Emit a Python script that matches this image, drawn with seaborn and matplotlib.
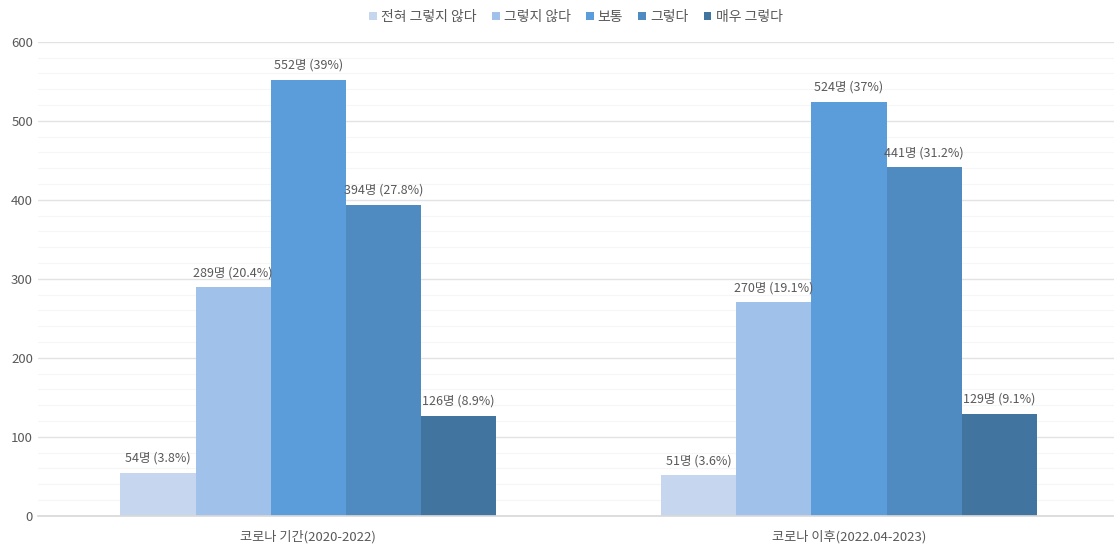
import matplotlib
matplotlib.use("Agg")
import matplotlib.pyplot as plt
import numpy as np
import pandas as pd
import seaborn as sns
from matplotlib.ticker import MultipleLocator

periods = ["코로나 기간(2020-2022)", "코로나 이후(2022.04-2023)"]
responses = ["전혀 그렇지 않다", "그렇지 않다", "보통", "그렇다", "매우 그렇다"]
counts_during = [54, 289, 552, 394, 126]
counts_after = [51, 270, 524, 441, 129]
pct_during = ["3.8%", "20.4%", "39%", "27.8%", "8.9%"]
pct_after = ["3.6%", "19.1%", "37%", "31.2%", "9.1%"]
colors = ["#C5D6EE", "#9FC1EA", "#5B9DDA", "#4F8AC0", "#41759F"]

rows = []
for period, counts, pcts in [(periods[0], counts_during, pct_during),
                             (periods[1], counts_after, pct_after)]:
    for resp, c, p in zip(responses, counts, pcts):
        rows.append({"period": period, "response": resp, "count": c,
                     "label": f"{c}명 ({p})"})
df = pd.DataFrame(rows)

sns.set_theme(style="white")
plt.rcParams["font.family"] = ["Noto Sans CJK KR", "DejaVu Sans"]
text_color = "#595959"

fig, ax = plt.subplots(figsize=(11.14, 5.44), dpi=100)
sns.barplot(data=df, x="period", y="count", hue="response",
            hue_order=responses, palette=colors, width=0.695,
            saturation=1, gap=0, linewidth=0, ax=ax)

# data labels
for container, resp in zip(ax.containers, responses):
    labels = df[df["response"] == resp]["label"].tolist()
    ax.bar_label(container, labels=labels, padding=6, fontsize=9,
                 color=text_color)

ax.set_ylim(0, 600)
ax.set_xlim(-0.5, 1.49)
ax.yaxis.set_major_locator(MultipleLocator(100))
ax.yaxis.set_minor_locator(MultipleLocator(20))
ax.grid(axis="y", which="major", color="#E3E3E3", linewidth=1)
ax.grid(axis="y", which="minor", color="#F6F6F6", linewidth=0.8)
ax.set_axisbelow(True)
for side in ["top", "right", "left"]:
    ax.spines[side].set_visible(False)
ax.spines["bottom"].set_color("#D9D9D9")
ax.tick_params(axis="both", which="both", length=0, colors=text_color,
               labelsize=9.5)
ax.tick_params(axis="x", pad=10)
ax.set_xlabel("")
ax.set_ylabel("")

ax.legend(loc="lower center", bbox_to_anchor=(0.5, 1.012), ncol=5,
          frameon=False, fontsize=10, handlelength=0.55, handleheight=0.55,
          handletextpad=0.3, columnspacing=1.1, labelcolor=text_color)

fig.subplots_adjust(left=0.034, right=1.0, top=0.923, bottom=0.052)
fig.savefig("out.png", dpi=100)
plt.close(fig)
